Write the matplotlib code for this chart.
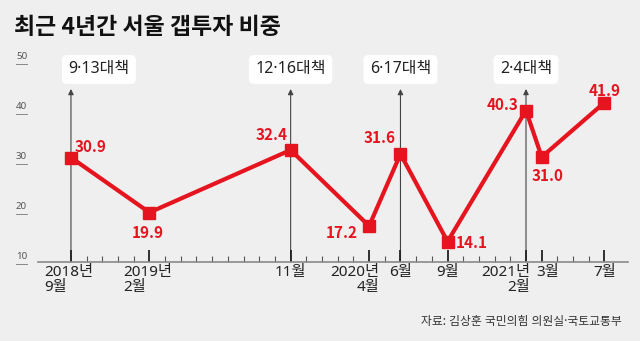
import matplotlib.pyplot as plt
import matplotlib.transforms as mtransforms

plt.rcParams['font.family'] = ['Noto Sans', 'Noto Sans CJK KR', 'DejaVu Sans']
bold_font = ['Noto Sans CJK KR', 'DejaVu Sans']

# 데이터 (2018년 9월 = 0 부터 월 단위)
months = [0, 5, 14, 19, 21, 24, 29, 30, 34]
values = [30.9, 19.9, 32.4, 17.2, 31.6, 14.1, 40.3, 31.0, 41.9]
tick_labels = ['2018년\n9월', '2019년\n2월', '11월', '2020년\n4월', '6월',
               '9월', '2021년\n2월', '3월', '7월']
policy_months = [0, 14, 21, 29]
policy_names = ['9·13대책', '12·16대책', '6·17대책', '2·4대책']
yticks = [10, 20, 30, 40, 50]

red = '#e5141f'
bg = '#efefef'
px = 0.72  # 1픽셀 = 0.72pt (dpi 100)

fig = plt.figure(figsize=(6.4, 3.41), dpi=100, facecolor=bg)
ax = fig.add_axes([38/640, (341-262)/341, 590/640, 200/341])
ax.set_facecolor(bg)
ax.set_xlim(-2.1, 35.5)
ax.set_ylim(10, 50)

for s in ['top', 'right', 'left']:
    ax.spines[s].set_visible(False)
ax.spines['bottom'].set_color('#8a8a8a')
ax.spines['bottom'].set_linewidth(1.2)
ax.set_yticks([])
ax.set_xticks(months)
ax.set_xticks(range(0, 35), minor=True)
ax.tick_params(axis='x', which='major', direction='in', length=9, width=1.3,
               color='#222222', labelbottom=False)
ax.tick_params(axis='x', which='minor', direction='in', length=4.5, width=0.8,
               color='#555555')

# 대책 화살표 + 박스
for m, name in zip(policy_months, policy_names):
    ax.annotate('', xy=(m, 44.6), xytext=(m, 10),
                arrowprops=dict(arrowstyle='-|>', color='#444444', lw=0.8,
                                mutation_scale=8, shrinkA=0, shrinkB=0),
                zorder=1, annotation_clip=False)
    dx = 28 * px if m == 0 else 0
    ax.annotate(name, xy=(m, 48.5), xytext=(dx, 0), textcoords='offset points',
                ha='center', va='center', fontsize=11.5, color='#222222',
                annotation_clip=False,
                bbox=dict(boxstyle='round,pad=0.4,rounding_size=0.3',
                          fc='white', ec='none'))

# 선 + 마커
ax.plot(months, values, color=red, lw=3, marker='s', markersize=8.5,
        zorder=3, clip_on=False)

# 값 라벨 위치 (픽셀 오프셋, 정렬)
label_pos = [(4, 10, 'left'), (-2, -21, 'center'), (-3, 15, 'right'),
             (-11, -7, 'right'), (-5, 16, 'right'), (8, -1, 'left'),
             (-8, 5, 'right'), (6, -19, 'center'), (0, 12, 'center')]
for m, v, (dx, dy, ha) in zip(months, values, label_pos):
    ax.annotate(f'{v:.1f}', xy=(m, v), xytext=(dx * px, dy * px),
                textcoords='offset points', ha=ha, va='center',
                fontsize=11, fontweight='bold', color=red, family=bold_font,
                annotation_clip=False)

# x축 라벨
xlab_pos = [(-2, 'center', 'left'), (-2, 'center', 'left'), (0, 'center', 'left'),
            (10, 'right', 'right'), (0, 'center', 'left'), (0, 'center', 'left'),
            (4, 'right', 'right'), (6, 'center', 'left'), (0, 'center', 'left')]
for m, lab, (dx, ha, ma) in zip(months, tick_labels, xlab_pos):
    ax.annotate(lab, xy=(m, 10), xytext=(dx * px, -3 * px),
                textcoords='offset points', ha=ha, va='top', multialignment=ma,
                fontsize=11, color='#222222', linespacing=1.0,
                annotation_clip=False)

# y축 라벨
trans = mtransforms.blended_transform_factory(fig.transFigure, ax.transData)
for t in yticks:
    ax.text(16/640, t + 0.2, str(t), transform=trans, ha='left', va='bottom',
            fontsize=7, color='#555555')
    ax.plot([16/640, 27/640], [t - 0.3, t - 0.3], transform=trans,
            color='#777777', lw=0.6, clip_on=False)

fig.text(14/640, 1 - 27/341, '최근 4년간 서울 갭투자 비중', ha='left',
         va='center', fontsize=16.5, fontweight='bold', color='#111111',
         family=bold_font)
fig.text(622/640, 1 - 321/341, '자료: 김상훈 국민의힘 의원실·국토교통부',
         ha='right', va='center', fontsize=8.5, color='#333333')

fig.savefig('out.png', dpi=100, facecolor=bg)
